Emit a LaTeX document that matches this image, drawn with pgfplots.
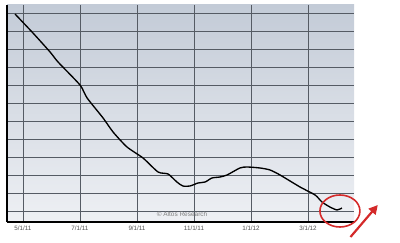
\documentclass[border=0pt]{standalone}
\usepackage{pgfplots}
\pgfplotsset{compat=1.18}
\usepackage{fontspec}
\setmainfont{Liberation Sans}
\usetikzlibrary{arrows.meta}
\definecolor{bgtop}{HTML}{C3CBD7}
\definecolor{bgbot}{HTML}{EEF0F4}
\definecolor{gridc}{HTML}{555B64}
\definecolor{lblc}{HTML}{505050}
\definecolor{redc}{HTML}{D42A2A}
\begin{document}
\begin{tikzpicture}[x=1bp,y=1bp]
\useasboundingbox (0,0) rectangle (400,243);
\begin{axis}[
  at={(7bp,21bp)}, anchor=south west,
  scale only axis, width=347bp, height=217bp,
  xmin=-0.561, xmax=11.614, ymin=0, ymax=217,
  axis background/.style={top color=bgtop, bottom color=bgbot},
  axis x line*=bottom, axis y line*=left,
  axis line style={line width=1.6pt, black, -},
  xtick={0,2,4,6,8,10},
  xticklabels={5/1/11,7/1/11,9/1/11,11/1/11,1/1/12,3/1/12},
  ytick={11,29,47,65,83,101,119,137,155,173,191,209},
  yticklabels={},
  major tick length=0pt,
  xmajorgrids, ymajorgrids,
  major grid style={gridc, line width=0.55pt},
  ticklabel style={font=\fontsize{6.3}{7}\selectfont, text=lblc},
  xticklabel style={yshift=-0.5bp},
  clip=false,
]
\addplot[black, line width=1.35pt, smooth, tension=0.4] coordinates {
(-0.28,208) (0.35,189) (0.95,170) (1.23,160) (2.0,137) (2.25,124)
(2.81,104) (3.16,90) (3.65,75) (4.21,64) (4.74,50) (5.09,48)
(5.40,40) (5.61,36) (5.86,36) (6.14,39) (6.39,40) (6.63,44)
(6.91,45) (7.16,47) (7.61,54) (7.86,55) (8.32,54) (8.67,52)
(9.02,47) (9.72,35) (10.25,27) (10.49,20) (10.77,15) (11.02,12) (11.19,14)
};
\node[text=gray, font=\fontsize{6.5}{7}\selectfont] at (axis cs:5.58,7.5) {\textcopyright{} Altos Research};
\draw[redc, line width=1.6pt] (axis cs:11.12,11) ellipse [x radius=20bp, y radius=16bp];
\draw[redc, line width=2.2pt, -{Triangle[length=9bp,width=9bp]}] (axis cs:11.49,-15) -- (axis cs:12.45,17);
\end{axis}
\end{tikzpicture}
\end{document}
